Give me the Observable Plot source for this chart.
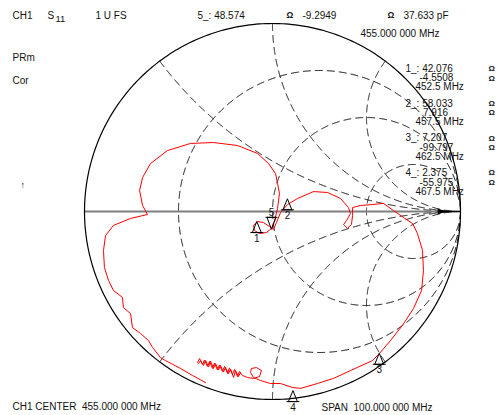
<!DOCTYPE html>
<html><head><meta charset="utf-8">
<script src="https://cdn.jsdelivr.net/npm/d3@7"></script>
<script src="https://cdn.jsdelivr.net/npm/@observablehq/plot@0.6"></script>
<style>
html,body{margin:0;padding:0;background:#fff;}
#chart{width:497px;height:415px;overflow:hidden;}
</style></head><body><div id="chart"></div>
<script>
// ---- Smith chart grid values ----
const resistanceCircles = [1/3, 1, 3];
const reactanceArcs = [0.5, 1, 2, -0.5, -1, -2];

// ---- Markers (from the readouts) ----
const markerNames = ["1", "2", "3", "4", "5"];
const markerR = [42.076, 58.033, 7.207, 2.375, 48.574];      // ohm
const markerX = [-4.5508, 7.916, -99.797, -55.975, -9.2949]; // ohm
const markerFreq = ["452.5 MHz", "457.5 MHz", "462.5 MHz", "467.5 MHz", "455.000 000 MHz"];
const activeMarkerC = "37.633 pF";
const Z0 = 50;

const traceRe = [-0.356,-0.426,-0.489,-0.569,-0.596,-0.638,-0.660,-0.702,-0.745,-0.755,-0.793,-0.798,-0.846,-0.872,-0.894,-0.899,-0.888,-0.846,-0.755,-0.665,
 -0.691,-0.707,-0.691,-0.649,-0.559,-0.436,-0.314,-0.186,-0.080,-0.021,0.016,0.027,0.037,0.027,0.011,-0.005,-0.032,-0.069,-0.096,-0.101,
 -0.080,-0.048,-0.016,0.005,0.021,0.043,0.080,0.133,0.218,0.293,0.362,0.404,0.415,0.394,0.378,0.399,0.420,0.426,0.426,0.468,
 0.532,0.590,0.644,0.697,0.745,0.771,0.798,0.803,0.793,0.750,0.691,0.628,0.569,0.532,0.415,0.324,0.239,0.149,0.106,0.043,
 -0.011,-0.064,-0.101,-0.117,-0.112,-0.085,-0.059,-0.069,-0.101,-0.133,
 -0.160,-0.176,-0.186,-0.202,-0.213,-0.229,-0.239,-0.255,-0.266,-0.282,-0.293,-0.309,-0.319,-0.335,-0.346,-0.362,-0.372,-0.388,-0.399,
 -0.394,-0.383,-0.367,-0.356,-0.340,-0.330,-0.314,-0.303,-0.287,-0.277,-0.261,-0.250,-0.234,-0.223,-0.207,-0.197,-0.181,-0.170];
const traceIm = [-0.910,-0.872,-0.835,-0.793,-0.777,-0.723,-0.686,-0.649,-0.617,-0.543,-0.511,-0.457,-0.420,-0.367,-0.298,-0.207,-0.128,-0.074,-0.037,-0.016,
 0.032,0.112,0.181,0.255,0.324,0.362,0.367,0.351,0.309,0.255,0.202,0.149,0.096,0.016,-0.048,-0.090,-0.112,-0.117,-0.101,-0.074,
 -0.053,-0.059,-0.080,-0.096,-0.059,-0.005,0.037,0.069,0.106,0.101,0.069,0.021,-0.011,-0.048,-0.069,-0.090,-0.069,-0.021,0.021,0.032,
 0.037,0.043,0.005,-0.032,-0.064,-0.117,-0.207,-0.314,-0.420,-0.516,-0.606,-0.686,-0.755,-0.793,-0.846,-0.888,-0.915,-0.941,-0.936,-0.915,
 -0.915,-0.899,-0.883,-0.856,-0.835,-0.830,-0.846,-0.878,-0.888,-0.883,
 -0.872,-0.851,-0.878,-0.840,-0.867,-0.832,-0.862,-0.824,-0.851,-0.816,-0.843,-0.806,-0.835,-0.798,-0.824,-0.790,-0.814,-0.782,-0.803,
 -0.809,-0.793,-0.819,-0.793,-0.827,-0.795,-0.835,-0.809,-0.843,-0.819,-0.854,-0.830,-0.862,-0.838,-0.883,-0.846,-0.878,-0.856];

// ---- helpers ----
function gamma(r, x) { const d = (r + 1) * (r + 1) + x * x; return [(r * r + x * x - 1) / d, (2 * x) / d]; }
const trace = traceRe.map((re, i) => ({re, im: traceIm[i]}));
const markers = markerNames.map((n, i) => { const g = gamma(markerR[i] / Z0, markerX[i] / Z0); return {n, re: g[0], im: g[1], active: n === "5"}; });

const unitCircle = d3.range(0, 361, 1).map(a => ({re: Math.cos(a * Math.PI / 180), im: Math.sin(a * Math.PI / 180)}));
const gridLines = [];
resistanceCircles.forEach(r => {
  d3.range(-1.5702, 1.5702, 0.002).forEach(t => { const g = gamma(r, Math.tan(t)); gridLines.push({id: "r" + r, re: g[0], im: g[1]}); });
});
reactanceArcs.forEach(x => {
  d3.range(0, 0.9995, 0.001).forEach(t => { const g = gamma(t / (1 - t), x); gridLines.push({id: "x" + x, re: g[0], im: g[1]}); });
});

const up = {draw(c) { c.moveTo(0, 0); c.lineTo(4.5, 11); c.lineTo(-4.5, 11); c.closePath(); c.moveTo(-6.5, 11); c.lineTo(6.5, 11); }};
const down = {draw(c) { c.moveTo(0, 0); c.lineTo(4.5, -12); c.lineTo(-4.5, -12); c.closePath(); c.moveTo(-6, -12); c.lineTo(6, -12); }};
const arrow = {draw(c) { c.moveTo(4.5, 0); c.lineTo(-4.5, -3); c.lineTo(-4.5, 3); c.closePath(); }};

const W = 497, H = 415, cx = 272, cy = 211, R = 188;
const font = "Liberation Sans, Arial, Helvetica, sans-serif";
function label(text, x, y, o = {}) {
  return Plot.text([text], {frameAnchor: "top-left", dx: x, dy: y, textAnchor: "start", lineAnchor: "middle", fill: "#111", fontSize: 10, ...o});
}

const marks = [
  Plot.line(gridLines, {x: "re", y: "im", z: "id", stroke: "black", strokeWidth: 1, strokeDasharray: "7,5"}),
  Plot.ruleY([0], {x1: -1, x2: 0.88, stroke: "#7f7f7f", strokeWidth: 2}),
  Plot.ruleY([0], {x1: 0.9, x2: 1, stroke: "black", strokeWidth: 1.5}),
  Plot.dot([{re: 0.902, im: 0}], {x: "re", y: "im", symbol: arrow, fill: "black", stroke: "none"}),
  Plot.line(unitCircle, {x: "re", y: "im", stroke: "black", strokeWidth: 1.2}),
  Plot.line(trace, {x: "re", y: "im", stroke: "#ff0000", strokeWidth: 1}),
  Plot.dot(markers.filter(d => !d.active), {x: "re", y: "im", symbol: up, stroke: "black", fill: "none", strokeWidth: 1}),
  Plot.dot(markers.filter(d => d.active), {x: "re", y: "im", symbol: down, stroke: "black", fill: "none", strokeWidth: 1}),
  Plot.text(markers.filter(d => !d.active), {x: "re", y: "im", text: "n", dy: 17, fontSize: 10, fill: "#111"}),
  Plot.text(markers.filter(d => d.active), {x: "re", y: "im", text: "n", dy: -17, fontSize: 10, fill: "#111"}),
  // header
  label("CH1", 12, 15),
  label("S", 47, 15),
  label("11", 55, 18, {fontSize: 9.5}),
  label("1 U FS", 95, 15),
  label(`5_: ${markerR[4]}`, 197, 15),
  label("Ω", 286, 15, {fontSize: 8.5, fontWeight: "bold"}),
  label(`${markerX[4]}`, 302, 15),
  label("Ω", 387, 15, {fontSize: 8.5, fontWeight: "bold"}),
  label(activeMarkerC, 403, 15),
  label(markerFreq[4], 360, 33),
  label("PRm", 12, 57),
  label("Cor", 12, 80),
  label("↑", 20, 185, {fontSize: 9}),
  label("CH1 CENTER  455.000 000 MHz", 12, 406),
  label("SPAN  100.000 000 MHz", 321, 407)
];
[0, 1, 2, 3].forEach(i => {
  const y0 = 68 + i * 34.8;
  marks.push(label(`${markerNames[i]}_: ${markerR[i]}`, 405, y0));
  marks.push(label(`${markerX[i]}`, markerX[i] < 0 ? 419 : 422.5, y0 + 9.5));
  marks.push(label(markerFreq[i], 415, y0 + 18.5));
  marks.push(label("Ω", 488, y0, {fontSize: 8, fontWeight: "bold"}));
  marks.push(label("Ω", 488, y0 + 9.5, {fontSize: 8, fontWeight: "bold"}));
});

const chart = Plot.plot({
  width: W, height: H,
  marginTop: 0, marginRight: 0, marginBottom: 0, marginLeft: 0,
  x: {domain: [-cx / R, (W - cx) / R], range: [0, W], axis: null},
  y: {domain: [-(H - cy) / R, cy / R], range: [H, 0], axis: null},
  style: {background: "white", fontFamily: font, fontSize: "10px", overflow: "visible"},
  marks
});
document.getElementById("chart").appendChild(chart);
</script>
</body></html>
